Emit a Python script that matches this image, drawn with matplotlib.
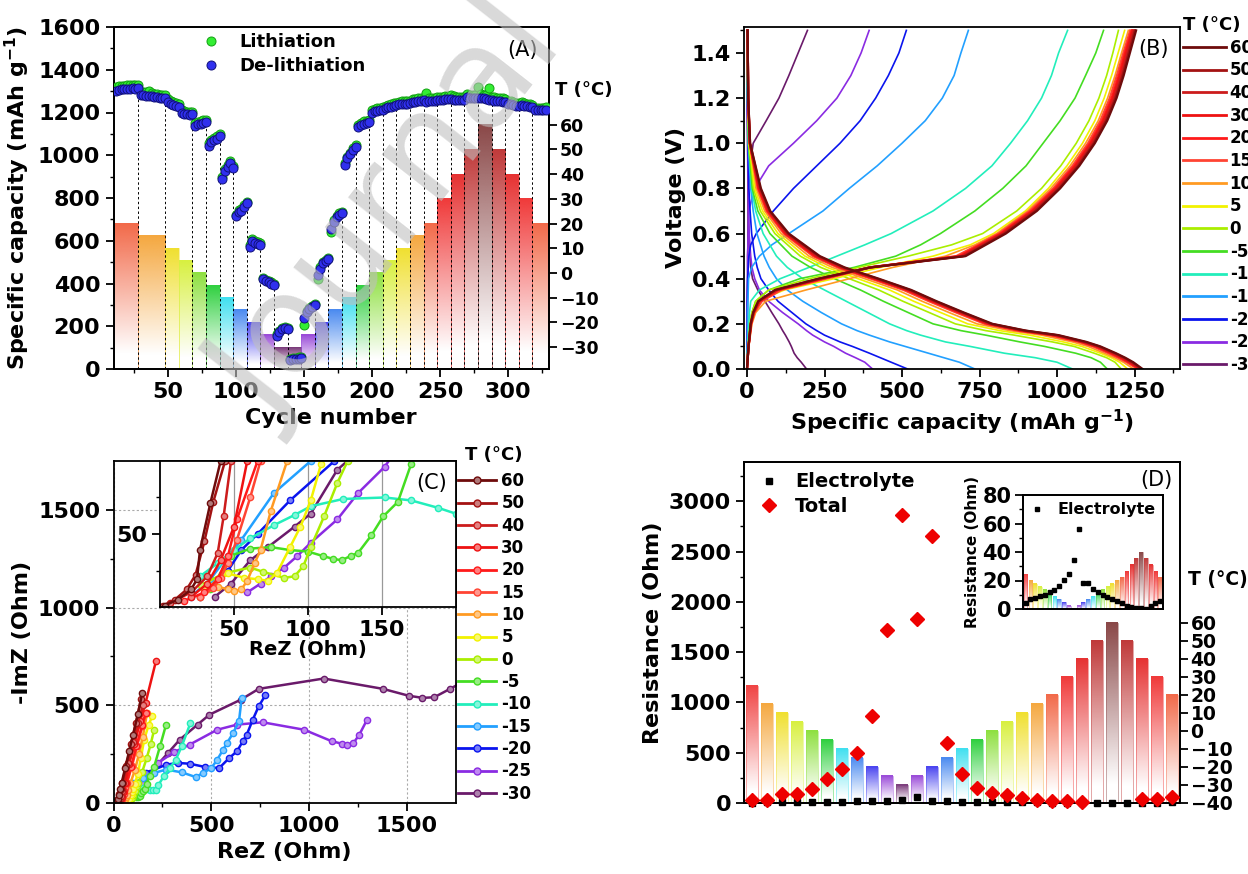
import numpy as np
import matplotlib.pyplot as plt
from matplotlib.colors import to_rgb
from matplotlib.lines import Line2D
from matplotlib.patches import Rectangle

plt.rcParams['font.family'] = ['DejaVu Sans']
plt.rcParams['font.weight'] = 'bold'
plt.rcParams['axes.labelweight'] = 'bold'
plt.rcParams['axes.linewidth'] = 1.3
plt.rcParams['xtick.major.width'] = 1.3
plt.rcParams['ytick.major.width'] = 1.3
plt.rcParams['xtick.minor.width'] = 1.0
plt.rcParams['ytick.minor.width'] = 1.0
plt.rcParams['xtick.major.size'] = 6
plt.rcParams['ytick.major.size'] = 6
plt.rcParams['xtick.minor.size'] = 3
plt.rcParams['ytick.minor.size'] = 3

# ---------------- data: panel A (cycling) ----------------
cycles = np.arange(12, 329, 2)
delith = [1302, 1305, 1308, 1310, 1311, 1312, 1313, 1312, 1314,
          1282, 1281, 1279, 1278, 1276, 1274, 1272, 1270, 1268, 1266,
          1248, 1242, 1236, 1232, 1228,
          1198, 1194, 1192, 1190, 1192,
          1138, 1144, 1148, 1152, 1156,
          1045, 1060, 1070, 1078, 1088,
          890, 925, 945, 965, 940,
          715, 735, 740, 760, 775,
          570, 600, 590, 585, 582,
          420, 410, 405, 398, 394,
          155, 172, 185, 190, 186,
          42, 45, 46, 48, 52,
          240, 265, 280, 290, 300,
          440, 470, 495, 505, 515,
          655, 690, 710, 722, 730,
          955, 985, 1005, 1025, 1040,
          1132, 1140, 1148, 1152, 1156,
          1200, 1205, 1208, 1210, 1212,
          1220, 1224, 1228, 1232, 1234,
          1238, 1240, 1241, 1242, 1243,
          1248, 1250, 1252, 1255, 1257,
          1250, 1252, 1254, 1256, 1258,
          1258, 1260, 1262, 1263, 1265,
          1260, 1259, 1258, 1258, 1258,
          1272, 1270, 1268, 1267, 1266,
          1270, 1266, 1263, 1260, 1258,
          1256, 1254, 1252, 1250, 1249,
          1242, 1238, 1235, 1232, 1230,
          1234, 1231, 1229, 1227, 1225,
          1210, 1210, 1211, 1211, 1212]
lith = [1318, 1322, 1325, 1326, 1327, 1328, 1328, 1327, 1329,
        1295, 1296, 1298, 1300, 1290, 1288, 1286, 1284, 1282, 1280,
        1262, 1256, 1250, 1246, 1242,
        1210, 1206, 1204, 1202, 1204,
        1150, 1156, 1160, 1163, 1166,
        1055, 1070, 1080, 1088, 1098,
        900, 935, 955, 975, 950,
        722, 742, 748, 768, 782,
        578, 608, 598, 592, 590,
        428, 418, 412, 405, 400,
        162, 178, 190, 196, 192,
        48, 50, 52, 54, 58,
        205, 270, 286, 296, 306,
        420, 476, 500, 512, 520,
        640, 696, 716, 728, 736,
        962, 992, 1012, 1032, 1048,
        1140, 1150, 1158, 1162, 1166,
        1212, 1216, 1220, 1222, 1224,
        1232, 1236, 1240, 1244, 1246,
        1250, 1252, 1254, 1255, 1256,
        1262, 1264, 1266, 1268, 1270,
        1290, 1268, 1268, 1270, 1272,
        1272, 1274, 1276, 1278, 1280,
        1275, 1274, 1273, 1272, 1272,
        1286, 1284, 1282, 1280, 1320,
        1285, 1282, 1280, 1316, 1274,
        1272, 1270, 1268, 1266, 1264,
        1256, 1252, 1249, 1246, 1244,
        1248, 1244, 1241, 1238, 1236,
        1222, 1222, 1223, 1223, 1224]
step_edges = [10, 28, 48, 58, 68, 78, 88, 98, 108, 118, 128, 148, 158, 168, 178,
              188, 198, 208, 218, 228, 238, 248, 258, 268, 278, 288, 298, 308, 318, 330]
step_T = [20, 15, 10, 5, 0, -5, -10, -15, -20, -25, -30, -25, -20, -15, -10,
          -5, 0, 5, 10, 15, 20, 30, 40, 50, 60, 50, 40, 30, 20]
dash_cycles = [28, 48, 68, 78, 88, 98, 108, 118, 128, 138, 148, 158, 168, 178, 188,
               198, 208, 218, 228, 238, 248, 258, 268, 278, 288, 298, 308, 318]

# ---------------- data: panel B (voltage profiles) ----------------
b_temps = [60, 50, 40, 30, 20, 15, 10, 5, 0, -5, -10, -15, -20, -25, -30]
v_dis = [1.5, 1.2, 1.0, 0.8, 0.7, 0.6, 0.5, 0.45, 0.4, 0.35, 0.3, 0.25, 0.2,
         0.17, 0.15, 0.12, 0.1, 0.07, 0.05, 0.03, 0.0]
cap_dis = [
    [2, 4, 10, 45, 75, 135, 235, 315, 425, 530, 612, 700, 792, 900, 1005, 1095, 1140, 1190, 1220, 1246, 1276],
    [2, 4, 10, 43, 73, 132, 231, 311, 421, 526, 608, 696, 788, 896, 1000, 1090, 1136, 1186, 1216, 1242, 1273],
    [2, 4, 9, 41, 71, 129, 227, 307, 417, 522, 604, 692, 784, 891, 995, 1086, 1132, 1182, 1212, 1238, 1270],
    [2, 4, 9, 39, 69, 126, 223, 303, 413, 518, 600, 688, 780, 886, 990, 1082, 1128, 1178, 1208, 1235, 1268],
    [2, 4, 9, 37, 66, 123, 219, 299, 408, 514, 596, 684, 776, 881, 985, 1078, 1124, 1174, 1204, 1231, 1265],
    [2, 4, 9, 35, 63, 119, 213, 292, 400, 505, 587, 675, 767, 872, 975, 1070, 1116, 1166, 1197, 1225, 1260],
    [2, 3, 8, 30, 57, 110, 200, 275, 380, 485, 565, 652, 742, 848, 950, 1050, 1100, 1152, 1185, 1214, 1247],
    [1, 3, 7, 25, 50, 100, 187, 258, 358, 460, 538, 625, 712, 815, 912, 1020, 1080, 1140, 1175, 1202, 1228],
    [1, 3, 6, 21, 43, 90, 172, 238, 330, 425, 503, 588, 672, 770, 862, 985, 1055, 1120, 1160, 1187, 1207],
    [1, 2, 5, 17, 35, 74, 145, 205, 282, 366, 440, 520, 600, 690, 770, 880, 960, 1060, 1110, 1140, 1162],
    [1, 2, 5, 15, 28, 52, 95, 130, 180, 250, 320, 390, 460, 515, 560, 640, 720, 830, 930, 1000, 1050],
    [1, 2, 4, 12, 20, 32, 55, 72, 95, 130, 180, 240, 305, 355, 395, 460, 510, 585, 635, 685, 735],
    [0, 1, 3, 6, 10, 15, 25, 33, 45, 70, 100, 145, 190, 225, 250, 300, 340, 395, 430, 465, 518],
    [0, 1, 2, 4, 5, 7, 12, 16, 25, 40, 70, 115, 165, 192, 212, 250, 280, 318, 350, 380, 405],
    [0, 1, 2, 3, 4, 6, 10, 12, 18, 35, 58, 80, 103, 115, 124, 136, 143, 152, 162, 175, 192],
]
v_chg = [0.0, 0.1, 0.2, 0.25, 0.3, 0.35, 0.4, 0.45, 0.5, 0.55, 0.6, 0.7, 0.8,
         0.9, 1.0, 1.1, 1.2, 1.3, 1.4, 1.5]
cap_chg = [
    [0, 5, 12, 20, 36, 90, 230, 400, 705, 770, 835, 935, 1010, 1072, 1122, 1162, 1192, 1215, 1235, 1255],
    [0, 5, 12, 20, 37, 92, 232, 398, 700, 765, 830, 930, 1006, 1068, 1118, 1158, 1188, 1211, 1231, 1251],
    [0, 5, 12, 21, 38, 95, 235, 396, 695, 760, 826, 926, 1002, 1064, 1114, 1154, 1184, 1207, 1227, 1247],
    [0, 5, 13, 22, 40, 98, 240, 395, 690, 756, 822, 922, 998, 1060, 1110, 1150, 1180, 1203, 1223, 1244],
    [0, 5, 13, 22, 42, 100, 245, 395, 685, 752, 818, 918, 994, 1056, 1106, 1146, 1176, 1199, 1219, 1241],
    [0, 5, 14, 24, 48, 110, 255, 400, 675, 745, 812, 912, 988, 1050, 1100, 1140, 1170, 1193, 1214, 1236],
    [0, 6, 16, 28, 60, 190, 330, 470, 640, 735, 805, 905, 980, 1042, 1092, 1133, 1163, 1187, 1208, 1230],
    [0, 4, 12, 20, 35, 120, 280, 430, 600, 720, 795, 898, 972, 1032, 1082, 1122, 1152, 1176, 1197, 1218],
    [0, 3, 10, 16, 28, 70, 200, 360, 520, 660, 760, 870, 950, 1012, 1062, 1103, 1135, 1160, 1180, 1198],
    [0, 4, 10, 16, 28, 70, 170, 345, 480, 560, 624, 735, 825, 900, 955, 1010, 1058, 1092, 1125, 1150],
    [0, 2, 6, 8, 12, 40, 107, 200, 290, 380, 465, 600, 705, 790, 850, 905, 950, 982, 1005, 1034],
    [0, 1, 2, 2, 3, 4, 5, 15, 40, 80, 135, 245, 330, 420, 500, 575, 630, 668, 690, 714],
    [0, 0, 1, 1, 1, 2, 2, 4, 6, 12, 30, 85, 150, 225, 300, 365, 415, 456, 490, 514],
    [0, 0, 1, 1, 1, 1, 2, 2, 2, 3, 4, 5, 25, 70, 150, 225, 290, 335, 368, 394],
    [0, 0, 1, 1, 1, 1, 2, 2, 2, 3, 3, 4, 5, 10, 20, 62, 103, 135, 165, 195],
]

# ---------------- data: panel C (Nyquist) ----------------
c_re = [
    [3, 12, 21, 25, 27, 34, 41, 60, 80, 100, 125, 147],
    [2, 10, 18, 24, 30, 36, 44, 65, 90, 115, 140],
    [7, 21, 32, 39, 43, 48, 75, 100, 125, 150],
    [21, 32, 41, 50, 59, 80, 107, 137, 164, 218],
    [16, 30, 39, 46, 52, 66, 90, 117, 147, 164],
    [27, 36, 41, 46, 52, 61, 68, 95, 120, 147, 168],
    [27, 39, 46, 50, 55, 59, 64, 68, 75, 86, 110, 130, 150, 172],
    [30, 46, 57, 66, 73, 79, 88, 95, 102, 109, 125, 140, 157, 180, 198],
    [28, 43, 61, 70, 84, 91, 97, 102, 111, 120, 127, 147, 170, 190, 208],
    [34, 48, 61, 75, 88, 100, 110, 117, 123, 129, 134, 143, 151, 161, 170, 185, 208, 238, 269],
    [27, 39, 50, 61, 77, 91, 102, 124, 152, 170, 188, 200, 215, 228, 258, 289, 319, 349, 394],
    [21, 34, 46, 55, 77, 102, 150, 208, 269, 349, 420, 460, 501, 531, 561, 581, 612, 642, 656],
    [27, 46, 55, 66, 88, 118, 168, 269, 329, 390, 470, 541, 592, 632, 662, 682, 713, 743, 777],
    [59, 68, 75, 84, 93, 102, 120, 134, 152, 228, 310, 390, 531, 632, 763, 975, 1117, 1167, 1197, 1228, 1258, 1298],
    [37, 48, 61, 73, 91, 102, 120, 188, 279, 339, 430, 491, 652, 743, 1076, 1379, 1510, 1581, 1641, 1722, 1770],
]
c_im = [
    [1, 5, 12, 19, 39, 71, 100, 180, 265, 350, 455, 563],
    [1, 5, 12, 22, 45, 72, 100, 190, 300, 410, 530],
    [3, 10, 21, 37, 62, 100, 205, 310, 410, 500],
    [7, 16, 32, 55, 100, 200, 300, 420, 512, 729],
    [4, 10, 19, 35, 60, 100, 185, 290, 400, 460],
    [7, 13, 20, 30, 46, 75, 100, 190, 290, 392, 461],
    [7, 14, 12, 11, 12, 18, 30, 39, 66, 100, 170, 250, 340, 461],
    [12, 23, 20, 19, 18, 23, 41, 55, 73, 98, 150, 230, 324, 400, 444],
    [15, 23, 27, 24, 20, 21, 28, 41, 62, 85, 100, 160, 230, 300, 375],
    [12, 35, 40, 41, 39, 38, 35, 33, 32, 35, 37, 49, 62, 72, 98, 140, 185, 290, 401],
    [21, 30, 39, 47, 56, 63, 69, 74, 75, 73, 68, 64, 64, 90, 137, 179, 222, 290, 410],
    [7, 19, 35, 46, 78, 100, 128, 154, 171, 157, 133, 154, 179, 222, 273, 307, 358, 418, 538],
    [7, 25, 39, 50, 73, 100, 154, 196, 205, 201, 184, 179, 230, 265, 316, 350, 427, 495, 551],
    [10, 16, 21, 27, 35, 44, 60, 78, 96, 205, 260, 299, 375, 401, 413, 375, 316, 304, 299, 307, 350, 427],
    [7, 16, 32, 41, 55, 64, 94, 154, 256, 324, 401, 452, 529, 584, 637, 584, 549, 538, 541, 584, 610],
]

# ---------------- data: panel D (resistance) ----------------
d_temps = [25, 15, 10, 5, 0, -5, -10, -15, -20, -25, -30, -25, -20, -15, -10,
           -5, 0, 5, 10, 15, 20, 30, 40, 50, 60, 50, 40, 30, 20]
d_total = [30, 30, 86, 86, 136, 235, 338, 500, 862, 1717, 2867, 1833, 2655, 593,
           285, 146, 96, 80, 53, 30, 23, 23, 13, np.nan, np.nan, np.nan, 35, 35, 55]
d_electrolyte = [4.4, 6.8, 7.9, 8.9, 10.0, 11.7, 13.1, 16.1, 20.4, 24.4, 34.4, 56.1,
                 18.5, 18.0, 13.8, 12.2, 9.8, 8.2, 6.8, 5.6, 4.0, 2.1, 1.2, 0.5,
                 1.0, 0.2, 2.1, 4.4, 5.4]

# ---------------- styles ----------------
line_colors = {60: '#6e0b0b', 50: '#a31212', 40: '#cc1c1c', 30: '#ee1212', 20: '#ff1a1a',
               15: '#ff4433', 10: '#ff9a22', 5: '#f2f200', 0: '#aaee00', -5: '#44dd22',
               -10: '#22eebb', -15: '#22a0ff', -20: '#0a14ee', -25: '#8a2be2', -30: '#6a1a6a'}
bar_colors = {60: '#8a4848', 50: '#c03a3a', 40: '#e63232', 30: '#f03a3a', 25: '#f04444',
              20: '#f26a4a', 15: '#f5a840', 10: '#f0e030', 5: '#d8f040', 0: '#8ee040',
              -5: '#30d040', -10: '#40e0f0', -15: '#4a8af0', -20: '#4a44f0',
              -25: '#9a4ad8', -30: '#7a3a7a'}

W, H = 1248, 874


def fpos(x0, y0, x1, y1):
    return [x0 / W, 1 - y1 / H, (x1 - x0) / W, (y1 - y0) / H]


def grad_bar(ax, x0, x1, y0, y1, color):
    rgb = to_rgb(color)
    img = np.zeros((64, 1, 4))
    img[..., :3] = rgb
    t = np.linspace(0, 1, 64)
    img[:, 0, 3] = np.clip((t - 0.1) / 0.9, 0, 1)
    ax.imshow(img, extent=(x0, x1, y0, y1), origin='lower', aspect='auto',
              interpolation='bilinear', zorder=1)
    ax.add_patch(Rectangle((x0, y0), x1 - x0, y1 - y0, fill=False, ec=color,
                           lw=0.7, alpha=0.45, zorder=1))


fig = plt.figure(figsize=(12.48, 8.74), dpi=100)

# ================= Panel A =================
axA = fig.add_axes(fpos(113.5, 27, 548.8, 369))
axA2 = axA.twinx()
axA.set_zorder(axA2.get_zorder() + 1)
axA.patch.set_visible(False)
for i, T in enumerate(step_T):
    grad_bar(axA2, step_edges[i], step_edges[i + 1], -38.9, T, bar_colors[T])
axA2.set_ylim(-38.9, 99.6)
axA2.set_yticks(range(-30, 61, 10))
axA2.tick_params(axis='y', labelsize=12.5, direction='out', pad=2)
for c in dash_cycles:
    top = np.interp(c, cycles, delith)
    axA.vlines(c, 0, top, colors='k', linestyles=(0, (2.5, 2.5)), lw=0.7, zorder=2)
axA.plot(cycles, lith, 'o', ms=6.5, mfc='#33ee33', mec='#12a012', mew=0.7,
         label='Lithiation', zorder=3)
axA.plot(cycles, delith, 'o', ms=6.5, mfc='#3030ee', mec='#10107a', mew=0.7,
         label='De-lithiation', zorder=4)
axA.set_xlim(10, 330)
axA.set_ylim(0, 1600)
axA.set_xticks(range(50, 301, 50))
axA.set_xticks(range(25, 330, 25), minor=True)
axA.set_yticks(range(0, 1601, 200))
axA.set_yticks(range(100, 1600, 200), minor=True)
axA.tick_params(labelsize=16, direction='out')
axA.tick_params(which='minor', direction='out')
axA.set_xlabel('Cycle number', fontsize=16)
axA.set_ylabel('Specific capacity (mAh g$^{\\mathbf{-1}}$)', fontsize=16, labelpad=4)
axA.legend(loc='upper left', bbox_to_anchor=(0.17, 1.03), frameon=False, fontsize=13,
           handlelength=0.8, handletextpad=1.2, labelspacing=0.35, markerscale=1.0)
axA.text(0.975, 0.933, '(A)', transform=axA.transAxes, ha='right', va='center',
         fontsize=15, fontweight='normal')
fig.text(584 / W, 1 - 90 / H, 'T (°C)', ha='center', va='center', fontsize=13)

# ================= Panel B =================
axB = fig.add_axes(fpos(744.2, 27, 1179.5, 369))
for k in range(len(b_temps) - 1, -1, -1):
    T = b_temps[k]
    lw = 1.6 if T >= 15 else 1.2
    axB.plot(cap_dis[k], v_dis, '-', color=line_colors[T], lw=lw)
    axB.plot(cap_chg[k], v_chg, '-', color=line_colors[T], lw=lw)
axB.set_xlim(-9, 1395)
axB.set_ylim(0, 1.515)
axB.set_xticks(range(0, 1251, 250))
axB.set_xticks(range(125, 1400, 250), minor=True)
axB.set_yticks(np.arange(0, 1.41, 0.2))
axB.set_yticks(np.arange(0.1, 1.51, 0.2), minor=True)
axB.yaxis.set_major_formatter(plt.FormatStrFormatter('%.1f'))
axB.tick_params(labelsize=16, direction='out')
axB.tick_params(which='minor', direction='out')
axB.set_xlabel('Specific capacity (mAh g$^{\\mathbf{-1}}$)', fontsize=16)
axB.set_ylabel('Voltage (V)', fontsize=16)
axB.text(0.975, 0.936, '(B)', transform=axB.transAxes, ha='right', va='center',
         fontsize=15, fontweight='normal')
hB = [Line2D([], [], color=line_colors[T], lw=2) for T in b_temps]
legB = axB.legend(hB, [str(T) for T in b_temps], loc='upper left',
                  bbox_to_anchor=(1183 / W, 1 - 16 / H), bbox_transform=fig.transFigure,
                  frameon=False, fontsize=12, handlelength=2.6, handletextpad=0.2,
                  labelspacing=0.28, borderaxespad=0, borderpad=0,
                  title='T (°C)', title_fontproperties={'size': 13, 'weight': 'bold'})
legB._legend_box.align = 'left'

# ================= Panel C =================
axC = fig.add_axes(fpos(113.5, 461, 455.5, 803))
order = list(range(len(b_temps) - 1, -1, -1))
for k in order:
    col = line_colors[b_temps[k]]
    mfc = tuple(0.55 * np.array(to_rgb(col)) + 0.45)
    axC.plot(c_re[k], c_im[k], '-o', color=col, lw=1.8, ms=4.5, mfc=mfc, mec=col, mew=1)
axC.set_xlim(0, 1750)
axC.set_ylim(0, 1750)
axC.set_xticks([0, 500, 1000, 1500])
axC.set_yticks([0, 500, 1000, 1500])
axC.set_xticks([250, 750, 1250], minor=True)
axC.set_yticks([250, 750, 1250], minor=True)
axC.grid(True, which='major', ls=(0, (2, 2)), color='#aaaaaa', lw=0.8)
axC.set_axisbelow(True)
axC.tick_params(labelsize=16, direction='out')
axC.tick_params(which='minor', direction='out')
axC.set_xlabel('ReZ (Ohm)', fontsize=16)
axC.set_ylabel('-ImZ (Ohm)', fontsize=16)

axCi = fig.add_axes(fpos(160.1, 461, 455.5, 607))
for k in order:
    col = line_colors[b_temps[k]]
    mfc = tuple(0.55 * np.array(to_rgb(col)) + 0.45)
    axCi.plot(c_re[k], c_im[k], '-o', color=col, lw=1.8, ms=4.5, mfc=mfc, mec=col, mew=1)
axCi.set_xlim(0, 200)
axCi.set_ylim(0, 100)
axCi.set_xticks([50, 100, 150])
axCi.set_yticks([50])
axCi.set_yticks([25, 75], minor=True)
axCi.grid(True, axis='x', color='#999999', lw=0.9)
axCi.set_axisbelow(True)
axCi.tick_params(labelsize=16, direction='out')
axCi.tick_params(which='minor', direction='out')
axCi.set_xlabel('ReZ (Ohm)', fontsize=14, labelpad=0)
axCi.text(0.97, 0.85, '(C)', transform=axCi.transAxes, ha='right', va='center',
          fontsize=15, fontweight='normal')
hC = []
for T in b_temps:
    col = line_colors[T]
    mfc = tuple(0.55 * np.array(to_rgb(col)) + 0.45)
    hC.append(Line2D([], [], color=col, lw=2, marker='o', ms=5, mfc=mfc, mec=col))
axC.legend(hC, [str(T) for T in b_temps], loc='upper left',
           bbox_to_anchor=(458 / W, 1 - 472 / H), bbox_transform=fig.transFigure,
           frameon=False, fontsize=12, handlelength=2.3, handletextpad=0.3,
           labelspacing=0.26, borderaxespad=0, borderpad=0)
fig.text(494 / W, 1 - 455 / H, 'T (°C)', ha='center', va='center', fontsize=13)

# ================= Panel D =================
idx = np.arange(1, len(d_temps) + 1)
axD = fig.add_axes(fpos(744.2, 461.7, 1179.5, 803))
axD2 = axD.twinx()
axD.set_zorder(axD2.get_zorder() + 1)
axD.patch.set_visible(False)
for i, T in enumerate(d_temps):
    grad_bar(axD2, idx[i] - 0.39, idx[i] + 0.39, -40, T, bar_colors[T])
axD2.set_ylim(-40, 149.3)
axD2.set_yticks(range(-40, 61, 10))
axD2.tick_params(axis='y', labelsize=13.5, direction='out', pad=2)
axD.plot(idx, d_electrolyte, 's', color='k', ms=5, label='Electrolyte', clip_on=False, zorder=3)
axD.plot(idx, d_total, 'D', color='#ee0000', ms=7, label='Total', clip_on=False, zorder=4)
axD.set_xlim(0.47, 29.5)
axD2.set_xlim(0.47, 29.5)
axD.set_ylim(0, 3393)
axD.set_xticks([])
axD.set_yticks(range(0, 3001, 500))
axD.set_yticks(range(250, 3300, 500), minor=True)
axD.tick_params(labelsize=16, direction='out')
axD.tick_params(which='minor', direction='out')
axD.set_ylabel('Resistance (Ohm)', fontsize=16)
axD.legend(loc='upper left', bbox_to_anchor=(0.0, 1.02), frameon=False, fontsize=14,
           handlelength=0.8, handletextpad=0.9, labelspacing=0.3, markerscale=1.0)
axD.text(0.985, 0.946, '(D)', transform=axD.transAxes, ha='right', va='center',
         fontsize=15, fontweight='normal')
fig.text(1218 / W, 1 - 579 / H, 'T (°C)', ha='center', va='center', fontsize=13.5)

axDi = fig.add_axes(fpos(1022.7, 495, 1162.7, 609))
axDi2 = axDi.twinx()
axDi.set_zorder(axDi2.get_zorder() + 1)
axDi.patch.set_visible(False)
for i, T in enumerate(d_temps):
    grad_bar(axDi2, idx[i] - 0.38, idx[i] + 0.38, -30.5, T, bar_colors[T])
axDi2.set_ylim(-30.5, 151)
axDi2.set_yticks([])
axDi.plot(idx, d_electrolyte, 's', color='k', ms=3, label='Electrolyte', zorder=3)
axDi.set_xlim(0.4, 29.5)
axDi2.set_xlim(0.4, 29.5)
axDi.set_ylim(0, 80)
axDi.set_xticks([])
axDi.set_yticks(range(0, 81, 20))
axDi.set_yticks(range(10, 80, 20), minor=True)
axDi.tick_params(labelsize=15, direction='out', pad=2)
axDi.tick_params(which='minor', direction='out')
axDi.set_ylabel('Resistance (Ohm)', fontsize=11, labelpad=2)
axDi.legend(loc='upper right', bbox_to_anchor=(1.02, 1.02), frameon=False, fontsize=11.5,
            handlelength=0.6, handletextpad=1.0, borderaxespad=0.2)

# watermark
fig.text(390 / W, 1 - 215 / H, 'Journal', rotation=52, ha='center', va='center',
         fontsize=100, fontweight='normal', color='#c0c0c0', alpha=0.6, zorder=20)

fig.savefig('out.png', dpi=100)
